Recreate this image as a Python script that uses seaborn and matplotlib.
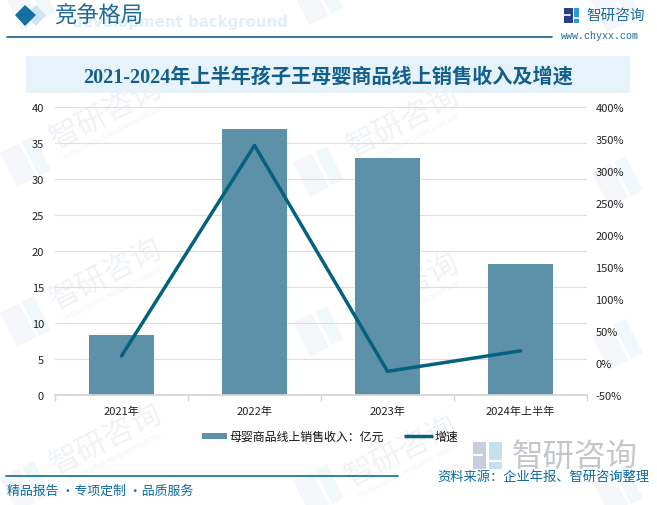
import matplotlib
matplotlib.use('Agg')
import matplotlib.pyplot as plt
from matplotlib.patches import Polygon, Rectangle
import pandas as pd
import seaborn as sns

categories = ['2021年', '2022年', '2023年', '2024年上半年']
revenue = [8.4, 37.0, 32.9, 18.2]
growth = [11, 340, -13, 19]
left_ticks = [0, 5, 10, 15, 20, 25, 30, 35, 40]
right_ticks = [-50, 0, 50, 100, 150, 200, 250, 300, 350, 400]

W, H = 657, 506
BLUE = '#135f8c'
BAR = '#5d91a9'
LINE = '#04617f'
MARK = '#f0f3f6'

sns.set_theme(style='white')
plt.rcParams['font.family'] = ['Noto Sans CJK SC', 'DejaVu Sans']
SERIF = ['Liberation Serif', 'Noto Sans CJK SC']

df = pd.DataFrame({'year': categories, 'revenue': revenue, 'growth': growth})

fig = plt.figure(figsize=(W / 100, H / 100), dpi=100, facecolor='white')
bg = fig.add_axes([0, 0, 1, 1], zorder=0)
bg.set_xlim(0, W)
bg.set_ylim(H, 0)
bg.axis('off')


# pale tilted logo behind the chart
def logo_mark(x, y):
    bg.add_patch(Rectangle((x, y + 17), 21, 38, angle=-27, fc='#f4f6fa', ec='none'))
    bg.add_patch(Rectangle((x + 22, y + 6), 13, 38, angle=-27, fc='#f1f8fb', ec='none'))


for x, y in [(0, 137), (293, 147), (592, 157), (0, 297), (293, 307), (592, 320), (0, 462), (293, 465), (592, 465), (292, -25), (590, -18), (5, -20)]:
    logo_mark(x, y)

# watermarks, start point of each text
for x, y in [(52, 142), (349, 150), (52, 303), (349, 317), (52, 468), (347, 480)]:
    bg.text(x, y, '智研咨询', fontsize=22, color=MARK, rotation=27, rotation_mode='anchor', ha='left', va='center')
    bg.text(x + 12, y + 16, 'INTELLIGENCE RESEARCH GROUP', fontsize=5, color=MARK, rotation=27,
            rotation_mode='anchor', ha='left', va='center')

# header
bg.text(72, 22, 'development background', fontsize=10.8, color='#e3eff8', fontweight='bold', ha='left', va='center', family='DejaVu Sans')
bg.add_patch(Polygon([[36, 6], [46, 16], [36, 27], [26, 16]], fc='#cfe3f0', ec='none'))
bg.add_patch(Polygon([[25, 6], [36, 16], [25, 27], [15, 16]], fc='#146fa5', ec='none'))
bg.text(54, 16, '竞争格局', fontsize=16, color='#1d6a9c', ha='left', va='center')
bg.plot([7, 552], [37.5, 37.5], color=BLUE, lw=1.2)

# logo
bg.add_patch(Rectangle((564, 9), 9, 15, fc='#2c3f85', ec='none'))
bg.add_patch(Rectangle((574, 9), 5, 15, fc='#2a9bd8', ec='none'))
bg.plot([564, 570], [16, 16], color='white', lw=1.2)
bg.plot([574, 579], [19, 19], color='white', lw=1.2)
bg.text(586, 16, '智研咨询', fontsize=10.5, color='#1d6a9c', ha='left', va='center')
bg.text(561, 36, 'www.chyxx.com', fontsize=7.2, color='#1d6a9c', family='Liberation Mono', ha='left', va='center')

# title band
bg.add_patch(Rectangle((26, 57), 604, 37, fc='#e6f3fb', ec='none'))
bg.text(328, 78, '2021-2024年上半年孩子王母婴商品线上销售收入及增速', fontsize=14.5, color=BLUE,
        fontweight='bold', family=SERIF, ha='center', va='center')

# plot area 55..587 x 108..396
ax = fig.add_axes([55 / W, 1 - 396 / H, 532 / W, 288 / H], zorder=2)
ax.patch.set_alpha(0)
sns.barplot(data=df, x='year', y='revenue', color=BAR, saturation=1, width=0.495, linewidth=0, ax=ax, zorder=2)
ax.set_xlim(-0.5, 3.5)
ax.set_ylim(0, 40)
ax.set_yticks(left_ticks)
ax.set_xlabel('')
ax.set_ylabel('')
ax.grid(axis='y', color='#dedede', lw=0.8, zorder=0)
ax.set_axisbelow(True)
for s in ['top', 'left', 'right']:
    ax.spines[s].set_visible(False)
ax.spines['bottom'].set_color('#d4d4d4')
ax.set_xticks([-0.5, 0.5, 1.5, 2.5, 3.5], minor=True)
ax.tick_params(axis='x', which='minor', length=4, color='#d4d4d4', bottom=True)
ax.tick_params(axis='x', which='major', length=0, labelsize=8, colors='#222222', pad=8)
ax.tick_params(axis='y', length=0, labelsize=8, colors='#222222', pad=8)

ax2 = ax.twinx()
ax2.patch.set_alpha(0)
sns.lineplot(data=df, x='year', y='growth', color=LINE, lw=2.5, ax=ax2, sort=False, zorder=3)
ax2.set_ylim(-50, 400)
ax2.set_yticks(right_ticks)
ax2.set_yticklabels([f'{v}%' for v in right_ticks])
ax2.set_ylabel('')
ax2.tick_params(axis='y', length=0, labelsize=8, colors='#222222', pad=6)
ax2.grid(False)
for s in ax2.spines.values():
    s.set_visible(False)

# legend and footer
top = fig.add_axes([0, 0, 1, 1], zorder=3)
top.set_xlim(0, W)
top.set_ylim(H, 0)
top.axis('off')
top.patch.set_alpha(0)
top.add_patch(Rectangle((202, 434), 25, 6, fc=BAR, ec='none'))
top.text(229, 437, '母婴商品线上销售收入：亿元', fontsize=8.6, color='#111111', ha='left', va='center')
top.plot([404, 433], [437, 437], color=LINE, lw=2.5, solid_capstyle='butt')
top.text(434.5, 437, '增速', fontsize=8.6, color='#111111', ha='left', va='center')

top.plot([6, 398], [476.5, 476.5], color='#0f6a9f', lw=1.2)
top.text(7, 491, '精品报告 ·专项定制 ·品质服务', fontsize=9.3, color='#0f6a9f', ha='left', va='center')
top.add_patch(Rectangle((473, 443), 13, 27, fc='#c7cfdf', ec='none'))
top.add_patch(Rectangle((489, 443), 13, 27, fc='#c5e0ee', ec='none'))
top.plot([473, 482], [456, 456], color='white', lw=1.5)
top.plot([489, 502], [462, 462], color='white', lw=1.5)
top.text(512, 457, '智研咨询', fontsize=22.7, color='#c4c7ca', ha='left', va='center')
top.text(437, 477, '资料来源：企业年报、智研咨询整理', fontsize=9.55, color='#0f6a9f', ha='left', va='center')

fig.savefig('out.png', dpi=100)
